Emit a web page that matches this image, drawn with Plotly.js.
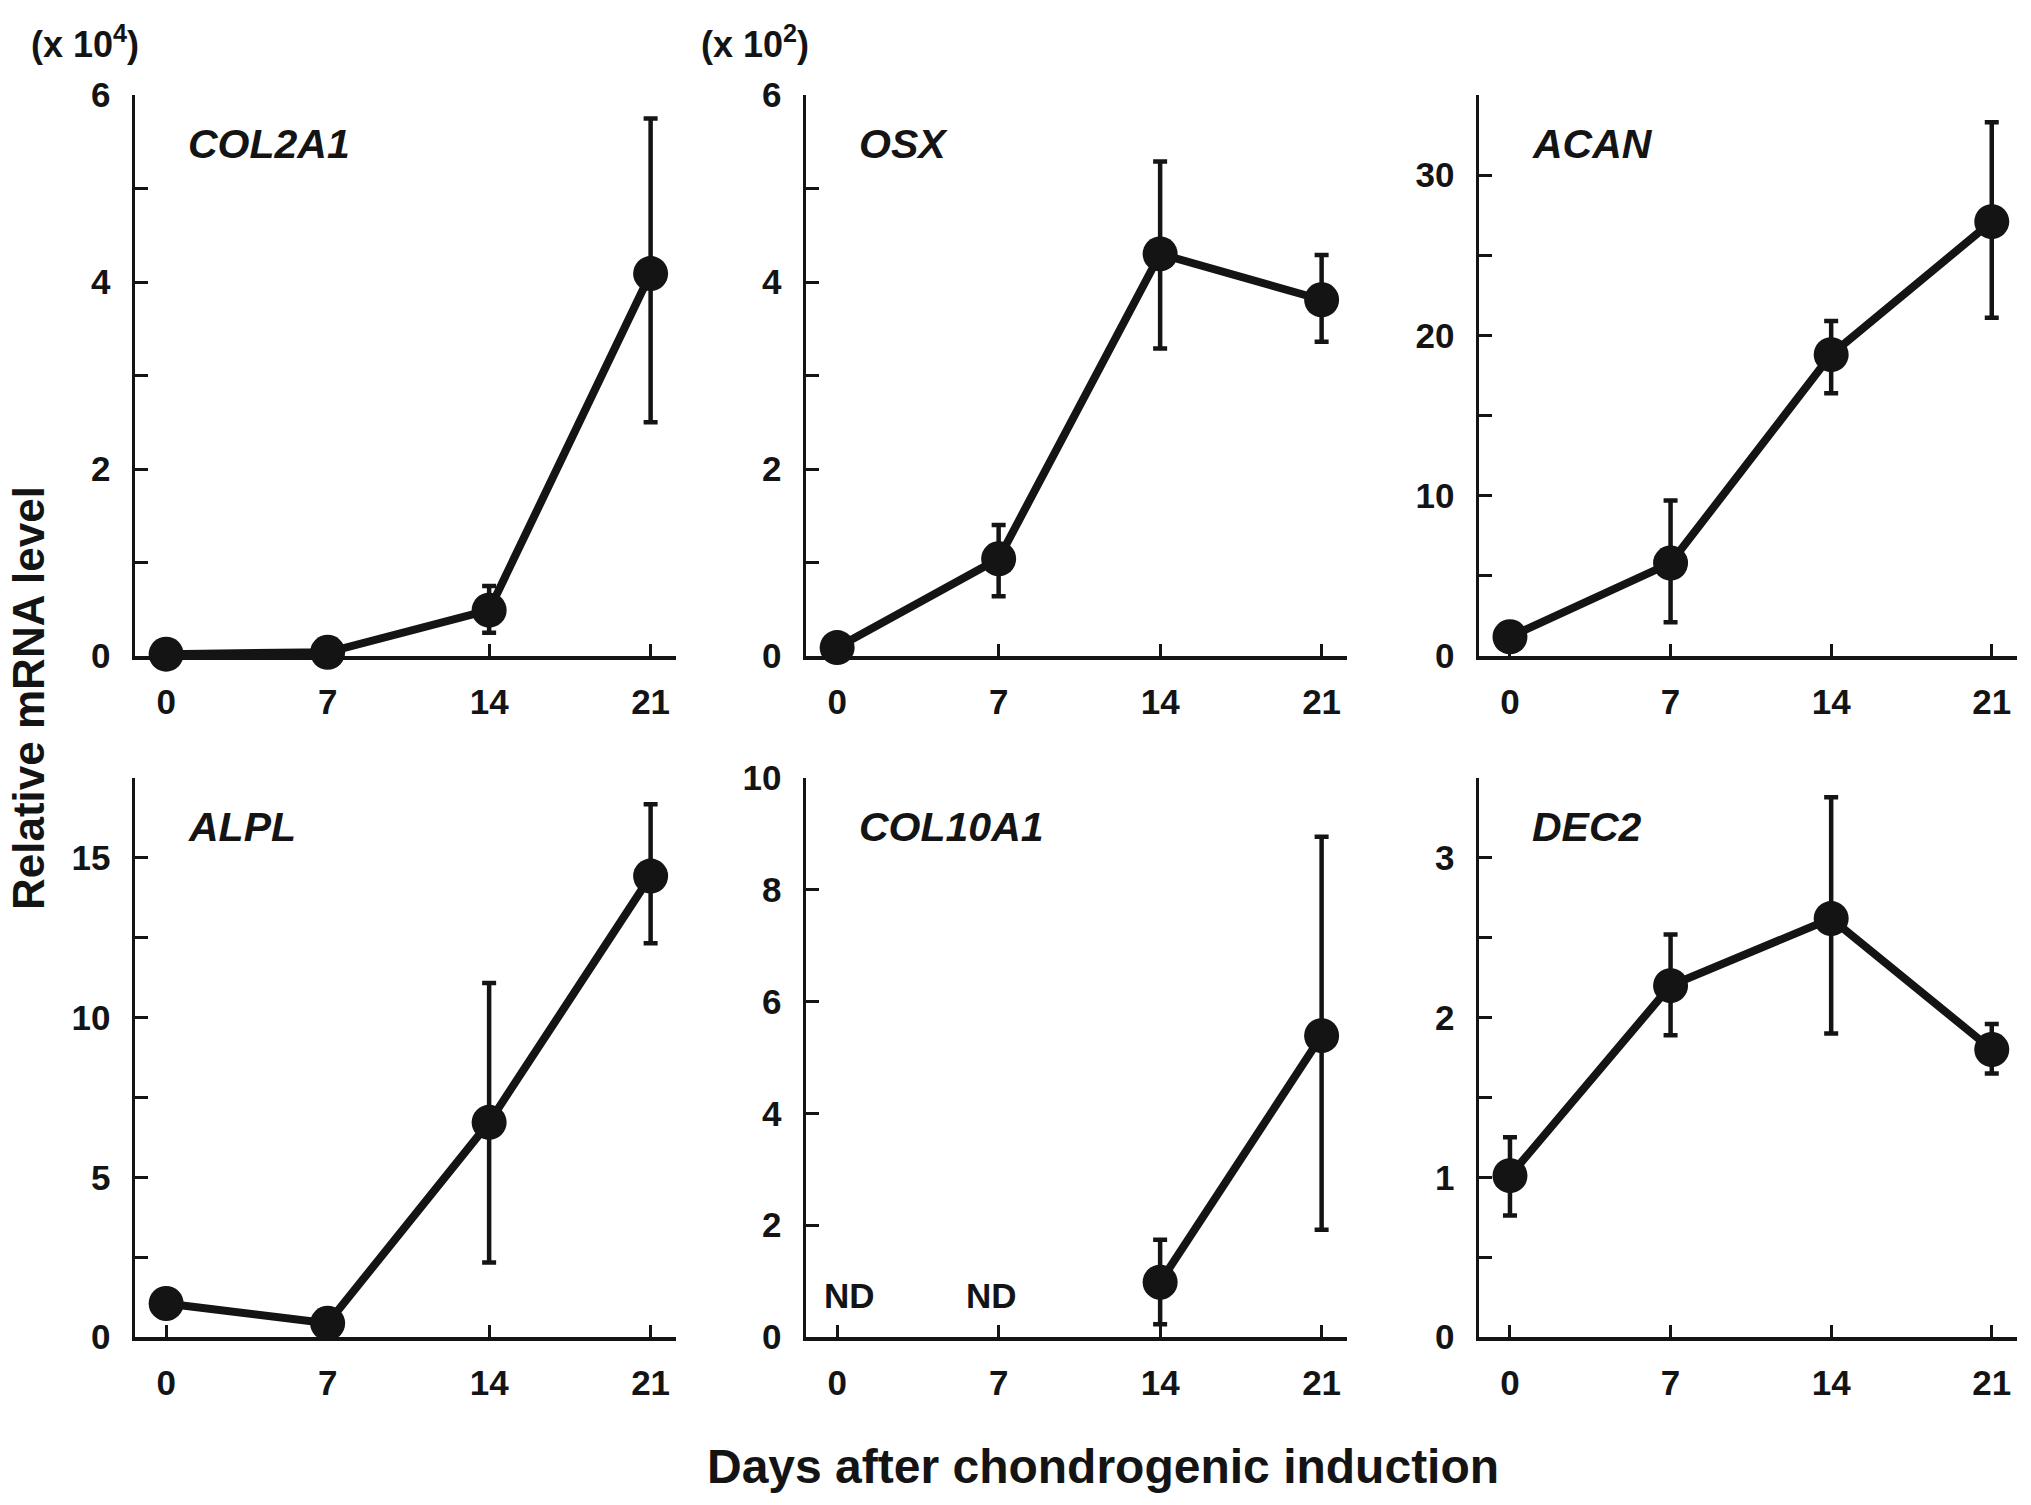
<!DOCTYPE html>
<html>
<head>
<meta charset="utf-8">
<script src="https://cdn.plot.ly/plotly-3.0.1.min.js"></script>
<style>
  html, body { margin: 0; padding: 0; background: #fff; }
  #graph { width: 2031px; height: 1505px; }
</style>
</head>
<body>
<div id="graph"></div>
<script>
// days after induction
var days = [0, 7, 14, 21];
var dayLabels = ['0', '7', '14', '21'];

// values (mean, upper and lower end of error bar)
var col2a1 = [0.02, 0.04, 0.49, 4.09];
var col2a1Hi = [0.02, 0.04, 0.75, 5.75];
var col2a1Lo = [0.02, 0.04, 0.25, 2.50];

var osx = [0.09, 1.04, 4.30, 3.81];
var osxHi = [0.09, 1.40, 5.29, 4.29];
var osxLo = [0.09, 0.64, 3.29, 3.36];

var acan = [1.2, 5.8, 18.8, 27.1];
var acanHi = [1.2, 9.7, 20.9, 33.3];
var acanLo = [1.2, 2.1, 16.4, 21.1];

var alpl = [1.05, 0.43, 6.72, 14.43];
var alplHi = [1.05, 0.43, 11.08, 16.68];
var alplLo = [1.05, 0.43, 2.33, 12.33];

var col10a1 = [null, null, 0.98, 5.39];
var col10a1Hi = [null, null, 1.74, 8.95];
var col10a1Lo = [null, null, 0.23, 1.92];

var dec2 = [1.01, 2.20, 2.62, 1.80];
var dec2Hi = [1.25, 2.52, 3.38, 1.96];
var dec2Lo = [0.76, 1.89, 1.90, 1.65];

var genes = ['COL2A1', 'OSX', 'ACAN', 'ALPL', 'COL10A1', 'DEC2'];
var ndDays = [0, 7];

var ink = '#141414';
var fam = '"Liberation Sans", Arial, Helvetica, sans-serif';

var panels = [
  {v: col2a1, hi: col2a1Hi, lo: col2a1Lo, range: [0, 6], dtick: 2, minor: 1},
  {v: osx, hi: osxHi, lo: osxLo, range: [0, 6], dtick: 2, minor: 1},
  {v: acan, hi: acanHi, lo: acanLo, range: [0, 35], dtick: 10, minor: 5},
  {v: alpl, hi: alplHi, lo: alplLo, range: [0, 17.5], dtick: 5, minor: 2.5},
  {v: col10a1, hi: col10a1Hi, lo: col10a1Lo, range: [0, 10], dtick: 2, minor: null},
  {v: dec2, hi: dec2Hi, lo: dec2Lo, range: [0, 3.5], dtick: 1, minor: 0.5}
];

var W = 2031, H = 1505;
var colPx = [[135, 676], [806, 1347], [1479, 2017]];
var rowPx = [[95, 656], [778, 1337]];

var data = [];
var layout = {
  width: W,
  height: H,
  margin: {l: 0, r: 0, t: 0, b: 0},
  paper_bgcolor: '#fff',
  plot_bgcolor: 'rgba(0,0,0,0)',
  showlegend: false,
  font: {family: fam, color: ink},
  annotations: []
};

panels.forEach(function (p, i) {
  var n = i + 1;
  var sfx = n === 1 ? '' : String(n);
  var col = colPx[i % 3], row = rowPx[Math.floor(i / 3)];

  var plus = p.v.map(function (v, k) { return v == null ? null : p.hi[k] - v; });
  var minus = p.v.map(function (v, k) { return v == null ? null : v - p.lo[k]; });

  data.push({
    x: days,
    y: p.v,
    xaxis: 'x' + sfx,
    yaxis: 'y' + sfx,
    type: 'scatter',
    mode: 'lines+markers',
    cliponaxis: false,
    connectgaps: false,
    line: {color: ink, width: 8},
    marker: {color: ink, size: 35},
    error_y: {
      type: 'data',
      symmetric: false,
      array: plus,
      arrayminus: minus,
      color: ink,
      thickness: 4.5,
      width: 7
    },
    hoverinfo: 'x+y'
  });

  layout['xaxis' + sfx] = {
    domain: [col[0] / W, col[1] / W],
    anchor: 'y' + sfx,
    range: [-1.35, 22.1],
    tickmode: 'array',
    tickvals: days,
    ticktext: dayLabels,
    ticks: 'inside',
    ticklen: 12,
    tickwidth: 3,
    tickcolor: ink,
    showline: true,
    linewidth: 3.5,
    linecolor: ink,
    showgrid: false,
    zeroline: false,
    layer: 'below traces',
    ticklabelstandoff: 12,
    tickfont: {family: fam, size: 35, weight: 'bold', color: ink},
    fixedrange: true
  };

  var ya = {
    domain: [1 - row[1] / H, 1 - row[0] / H],
    anchor: 'x' + sfx,
    range: p.range,
    tick0: 0,
    dtick: p.dtick,
    ticks: 'inside',
    ticklen: 13,
    tickwidth: 3,
    tickcolor: ink,
    showline: true,
    linewidth: 3.5,
    linecolor: ink,
    showgrid: false,
    zeroline: false,
    layer: 'below traces',
    ticklabelstandoff: 14,
    tickfont: {family: fam, size: 35, weight: 'bold', color: ink},
    fixedrange: true
  };
  if (p.minor) {
    ya.minor = {dtick: p.minor, tick0: 0, ticks: 'inside', ticklen: 13, tickwidth: 3, tickcolor: ink, showgrid: false};
  }
  layout['yaxis' + sfx] = ya;

  // gene name inside each panel
  layout.annotations.push({
    xref: 'x' + sfx + ' domain',
    yref: 'y' + sfx + ' domain',
    x: 0.095,
    y: 0.913,
    xanchor: 'left',
    yanchor: 'middle',
    showarrow: false,
    text: genes[i],
    font: {family: fam, size: 41, weight: 'bold', style: 'italic', color: ink}
  });
});

// not detected labels for COL10A1
ndDays.forEach(function (d, k) {
  layout.annotations.push({
    xref: 'x5', yref: 'y5',
    x: d, y: 0.74,
    xshift: k === 0 ? 12 : -7,
    xanchor: 'center', yanchor: 'middle',
    showarrow: false,
    text: 'ND',
    font: {family: fam, size: 35, weight: 'bold', color: ink}
  });
});

// scale factors above the first two panels
[['(x 10<sup>4</sup>)', 29], ['(x 10<sup>2</sup>)', 699]].forEach(function (s) {
  layout.annotations.push({
    xref: 'paper', yref: 'paper',
    x: s[1] / W, y: 1 - 42 / H,
    xanchor: 'left', yanchor: 'middle',
    showarrow: false,
    text: s[0],
    font: {family: fam, size: 36, weight: 'bold', color: ink}
  });
});

// shared axis titles
layout.annotations.push({
  xref: 'paper', yref: 'paper',
  x: 28 / W, y: 1 - 698 / H,
  xanchor: 'center', yanchor: 'middle',
  textangle: -90,
  showarrow: false,
  text: 'Relative mRNA level',
  font: {family: fam, size: 44, weight: 'bold', color: ink}
});
layout.annotations.push({
  xref: 'paper', yref: 'paper',
  x: 1103 / W, y: 1 - 1466 / H,
  xanchor: 'center', yanchor: 'middle',
  showarrow: false,
  text: 'Days after chondrogenic induction',
  font: {family: fam, size: 48, weight: 'bold', color: ink}
});

Plotly.newPlot('graph', data, layout, {displayModeBar: false, staticPlot: true});
</script>
</body>
</html>
